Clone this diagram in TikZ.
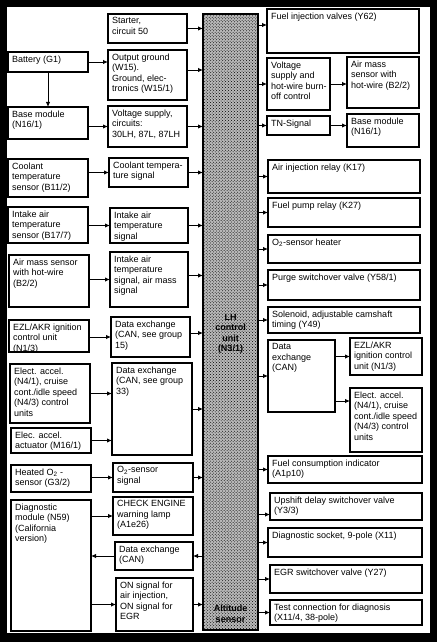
\documentclass[tikz,border=0pt]{standalone}
\usepackage{fontspec}
\setmainfont{Liberation Sans}
\usetikzlibrary{patterns,arrows.meta}
\newcommand{\blk}[6]{\node[blk, minimum width=#4bp-#2bp, minimum height=#5bp-#3bp,
    label={[blktxt]north west:{#6}}] (#1) at (#2,#3) {};}

\begin{document}
\begin{tikzpicture}[x=1bp, y=-1bp, >={Latex[length=5bp,width=4.5bp]},
    blk/.style={draw, line width=1.1bp, anchor=north west, inner sep=0pt, outer sep=0pt},
    blktxt/.style={anchor=north west, align=left, inner xsep=4bp, inner ysep=3.5bp,
      font=\fontsize{9bp}{10.5bp}\selectfont},
    ecutxt/.style={align=center, inner sep=1bp, font=\fontsize{9bp}{10.5bp}\selectfont\bfseries},
    conn/.style={->, line width=0.9bp},
    heavy/.style={->, line width=1.6bp}]
      \useasboundingbox (0,0) rectangle (437,642);
      \fill[black] (0,0) rectangle (437,642);
      \fill[white] (7,7) rectangle (430,633);

      % control unit
      \node[draw, line width=1.1bp, anchor=north west, inner sep=0pt, outer sep=0pt,
        minimum width=55bp, minimum height=616bp, preaction={fill=gray!55},
        pattern=crosshatch dots, pattern color=black] (ecu) at (203,14) {};
      \node[ecutxt] (ecul) at ([yshift=-12bp]ecu.center) {LH\\control\\unit\\(N3/1)};
      \node[ecutxt] (alti) at ([yshift=16bp]ecu.south) {Altitude\\sensor};

      % left column
      \blk{batt}{8}{52}{88}{72}{Battery (G1)}
      \blk{base}{8}{107}{88}{139}{Base module\\(N16/1)}
      \blk{cts}{8}{159}{88}{197}{Coolant\\temperature\\sensor (B11/2)}
      \blk{iats}{8}{207}{88}{243}{Intake air\\temperature\\sensor (B17/7)}
      \blk{mafs}{9}{255}{89}{307}{Air mass sensor\\with hot-wire\\(B2/2)}
      \blk{ezl}{9}{320}{89}{352}{EZL/AKR ignition\\control unit\\(N1/3)}
      \blk{eacc}{10}{364}{90}{423}{Elect. accel.\\(N4/1), cruise\\cont./idle speed\\(N4/3) control\\units}
      \blk{act}{11}{428}{91}{453}{Elec. accel.\\actuator (M16/1)}
      \blk{o2s}{11}{465}{91}{492}{Heated O\textsubscript{2} -\\sensor (G3/2)}
      \blk{diag}{11}{500}{91}{631}{Diagnostic\\module (N59)\\(California\\version)}

      % second column
      \blk{start}{108}{14}{187}{43}{Starter,\\circuit 50}
      \blk{outg}{108}{50}{187}{100}{Output ground\\(W15).\\Ground, elec-\\tronics (W15/1)}
      \blk{vsup}{108}{106}{187}{147}{Voltage supply,\\circuits:\\30LH, 87L, 87LH}
      \blk{ctsig}{109}{158}{188}{187}{Coolant tempera-\\ture signal}
      \blk{iatsig}{110}{208}{188}{243}{Intake air\\temperature\\signal}
      \blk{mafsig}{110}{252}{188}{307}{Intake air\\temperature\\signal, air mass\\signal}
      \blk{can15}{111}{317}{190}{357}{Data exchange\\(CAN, see group\\15)}
      \blk{can33}{112}{363}{192}{455}{Data exchange\\(CAN, see group\\33)}
      \blk{o2sig}{113}{463}{193}{492}{O\textsubscript{2}-sensor\\signal}
      \blk{check}{113}{497}{193}{535}{CHECK ENGINE\\warning lamp\\(A1e26)}
      \blk{candiag}{115}{542}{193}{570}{Data exchange\\(CAN)}
      \blk{onsig}{116}{578}{193}{631}{ON signal for\\air injection,\\ON signal for\\EGR}

      % right column
      \blk{fiv}{267}{9}{419}{53}{Fuel injection valves (Y62)}
      \blk{hwc}{267}{58}{330}{110}{Voltage\\supply and\\hot-wire burn-\\off control}
      \blk{mafr}{347}{57}{419}{108}{Air mass\\sensor with\\hot-wire (B2/2)}
      \blk{tn}{267}{116}{330}{135}{TN-Signal}
      \blk{basr}{347}{114}{419}{147}{Base module\\(N16/1)}
      \blk{air}{268}{160}{420}{193}{Air injection relay (K17)}
      \blk{fpr}{268}{198}{420}{227}{Fuel pump relay (K27)}
      \blk{o2h}{268}{235}{420}{263}{O\textsubscript{2}-sensor heater}
      \blk{purge}{268}{270}{420}{300}{Purge switchover valve (Y58/1)}
      \blk{cam}{268}{307}{420}{333}{Solenoid, adjustable camshaft\\timing (Y49)}
      \blk{canr}{268}{340}{335}{412}{Data\\exchange\\(CAN)}
      \blk{ezlr}{350}{338}{422}{375}{EZL/AKR\\ignition control\\unit (N1/3)}
      \blk{eaccr}{350}{388}{422}{452}{Elect. accel.\\(N4/1), cruise\\cont./idle speed\\(N4/3) control\\units}
      \blk{fci}{268}{456}{422}{483}{Fuel consumption indicator\\(A1p10)}
      \blk{ups}{270}{493}{422}{520}{Upshift delay switchover valve\\(Y3/3)}
      \blk{dsock}{268}{528}{422}{557}{Diagnostic socket, 9-pole (X11)}
      \blk{egr}{270}{565}{422}{593}{EGR switchover valve (Y27)}
      \blk{test}{270}{600}{422}{625}{Test connection for diagnosis\\(X11/4, 38-pole)}

      % left column to second column
      \draw[conn] (batt.east) -- (batt.east -| outg.west);
      \draw[conn] (batt.south) -- (base.north);
      \draw[conn] (vsup.west -| base.east) -- (vsup.west);
      \draw[conn] (ctsig.west -| cts.east) -- (ctsig.west);
      \draw[heavy] (iatsig.west -| iats.east) -- (iatsig.west);
      \draw[conn] (mafsig.west -| mafs.east) -- (mafsig.west);
      \draw[conn] (can15.west -| ezl.east) -- (can15.west);
      \draw[conn] (eacc.east) -- (eacc.east -| can33.west);
      \draw[heavy] (act.east) -- (act.east -| can33.west);
      \draw[heavy] (o2sig.west -| o2s.east) -- (o2sig.west);
      \draw[conn] (check.west -| diag.east) -- (check.west);
      \draw[conn] (candiag.west) -- (candiag.west -| diag.east);
      \draw[conn] (onsig.west -| diag.east) -- (onsig.west);

      % second column to control unit
      \draw[conn] (start.east) -- (start.east -| ecu.west);
      \draw[conn] ([yshift=5bp]outg.east) -- ([yshift=5bp]outg.east -| ecu.west);
      \draw[conn] (vsup.east) -- (vsup.east -| ecu.west);
      \draw[conn] (ctsig.east) -- (ctsig.east -| ecu.west);
      \draw[conn] (iatsig.east) -- (iatsig.east -| ecu.west);
      \draw[conn] ([yshift=4bp]mafsig.east) -- ([yshift=4bp]mafsig.east -| ecu.west);
      \draw[conn] ([yshift=4bp]can15.east) -- ([yshift=4bp]can15.east -| ecu.west);
      \draw[conn] (can33.east) -- (can33.east -| ecu.west);
      \draw[conn] (o2sig.east) -- (o2sig.east -| ecu.west);
      \draw[conn] (ecu.west |- candiag.east) -- (candiag.east);
      \draw[conn] (onsig.east) -- (onsig.east -| ecu.west);

      % control unit to right column
      \draw[conn] ([yshift=6bp]fiv.west -| ecu.east) -- ([yshift=6bp]fiv.west);
      \draw[conn] (hwc.west -| ecu.east) -- (hwc.west);
      \draw[conn] (hwc.east) -- (hwc.east -| mafr.west);
      \draw[conn] (tn.west -| ecu.east) -- (tn.west);
      \draw[heavy] (tn.east) -- (tn.east -| basr.west);
      \draw[conn] (air.west -| ecu.east) -- (air.west);
      \draw[conn] (fpr.west -| ecu.east) -- (fpr.west);
      \draw[conn] (o2h.west -| ecu.east) -- (o2h.west);
      \draw[conn] (purge.west -| ecu.east) -- (purge.west);
      \draw[conn] (cam.west -| ecu.east) -- (cam.west);
      \draw[conn] (canr.west -| ecu.east) -- (canr.west);
      \draw[conn] (ezlr.west -| canr.east) -- (ezlr.west);
      \draw[conn] ([yshift=-25bp]canr.east) -- ([yshift=-25bp]canr.east -| eaccr.west);
      \draw[heavy] (fci.west -| ecu.east) -- (fci.west);
      \draw[conn] ([yshift=-8bp]ups.west -| ecu.east) -- ([yshift=-8bp]ups.west);
      \draw[conn] (dsock.west -| ecu.east) -- (dsock.west);
      \draw[conn] (egr.west -| ecu.east) -- (egr.west);
      \draw[conn] (test.west -| ecu.east) -- (test.west);
\end{tikzpicture}
\end{document}
